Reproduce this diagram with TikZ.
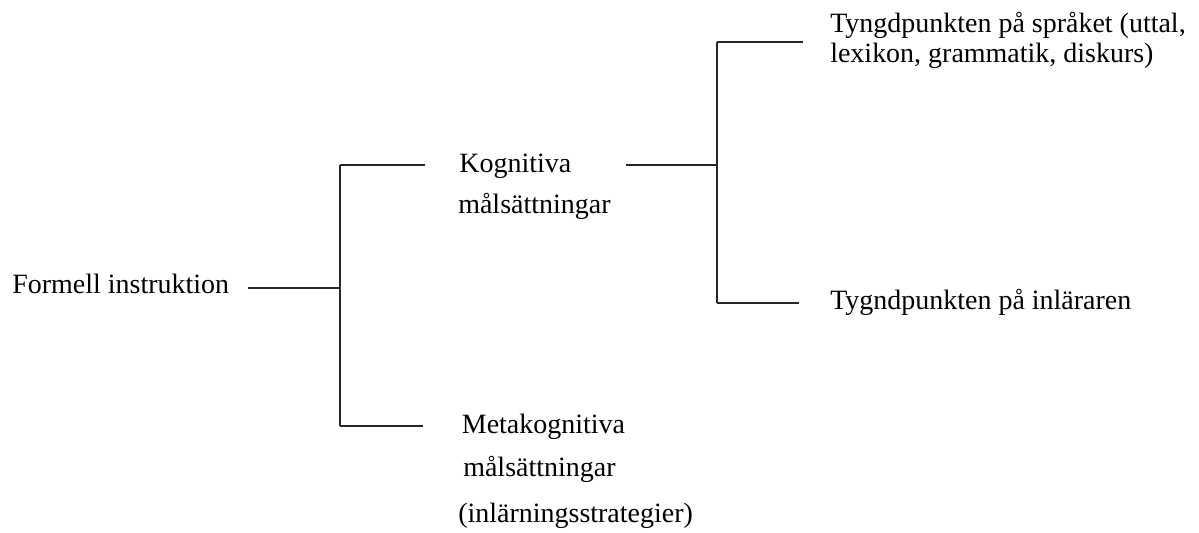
\documentclass[tikz,border=0pt]{standalone}
\usepackage{fontspec}
\setmainfont{Liberation Serif}
\tikzset{
  label/.style={anchor=base west, inner sep=0pt, font=\fontsize{19.9}{24}\selectfont},
  branch/.style={line width=1.3pt, draw=black!85}
}
\begin{document}
\begin{tikzpicture}
    \useasboundingbox (0,0) rectangle (29.975,13.3);
    % texts
    \node[label] (formell) at (0.3,5.975) {Formell instruktion};
    \node[label] (kog1) at (11.48,8.98) {Kognitiva};
    \node[label] (kog2) at (11.45,7.975) {målsättningar};
    \node[label] (meta1) at (11.54,2.475) {Metakognitiva};
    \node[label] (meta2) at (11.575,1.4) {målsättningar};
    \node[label] (meta3) at (11.45,0.25) {(inlärningsstrategier)};
    \node[label] (sprak1) at (20.75,12.475) {Tyngdpunkten på språket (uttal,};
    \node[label] (sprak2) at (20.75,11.725) {lexikon, grammatik, diskurs)};
    \node[label] (inl) at (20.75,5.575) {Tygndpunkten på inläraren};
    % branch points
    \coordinate (root) at (8.5,6.1);
    \coordinate (roottop) at (8.5,9.175);
    \coordinate (rootbot) at (8.5,2.65);
    \coordinate (kog) at (17.925,9.175);
    \coordinate (kogtop) at (17.925,12.25);
    \coordinate (kogbot) at (17.925,5.725);
    % lines
    \draw[branch] ([xshift=0.475cm]formell.east |- root) -- (root);
    \draw[branch] (roottop) -- (rootbot);
    \draw[branch] (roottop) -- ([xshift=-0.855cm]kog1.west |- roottop);
    \draw[branch] (rootbot) -- ([xshift=-0.965cm]meta1.west |- rootbot);
    \draw[branch] ([xshift=0.375cm]kog2.east |- kog) -- (kog);
    \draw[branch] (kogtop) -- (kogbot);
    \draw[branch] (kogtop) -- ([xshift=-0.675cm]sprak1.west |- kogtop);
    \draw[branch] (kogbot) -- ([xshift=-0.775cm]inl.west |- kogbot);
\end{tikzpicture}
\end{document}
